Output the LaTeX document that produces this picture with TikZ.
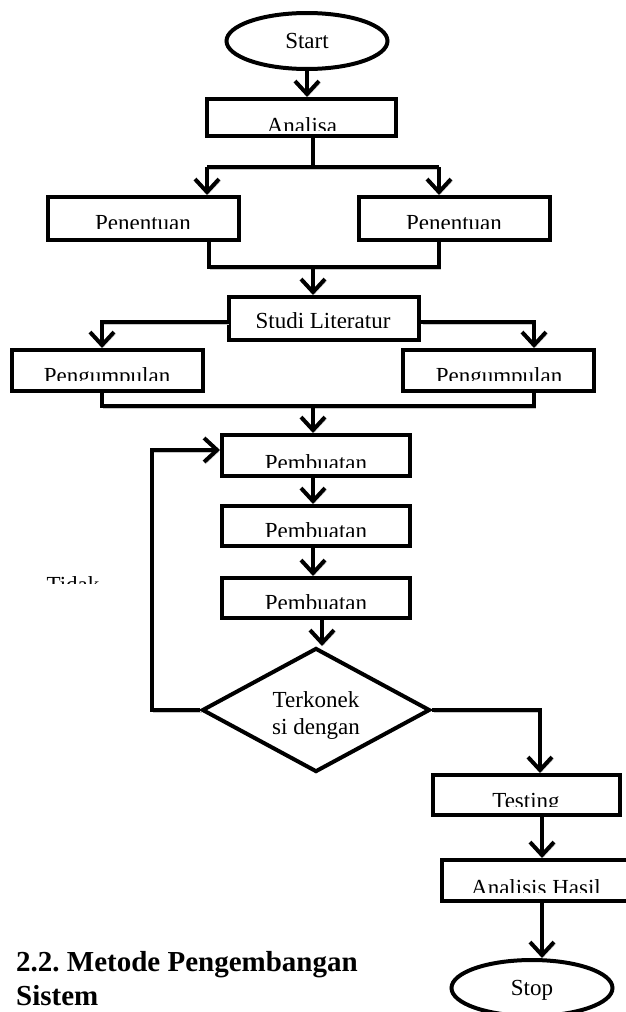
\documentclass[tikz,border=0pt]{standalone}
\usepackage{fontspec}
\setmainfont{Liberation Serif}
\usetikzlibrary{arrows.meta,shapes.geometric}
\frenchspacing
\tikzset{
  lw/.style={line width=4pt},
  shad/.style={preaction={draw=black!22, transform canvas={shift={(1.5pt,-2pt)}}}},
  conn/.style={lw, shad},
  arr/.style={conn, -{Straight Barb[length=13pt,width=24pt]}},
  box/.style={draw, lw, fill=white, rectangle, inner sep=0pt},
  term/.style={draw, lw, fill=white, ellipse, inner sep=0pt, minimum width=161pt, minimum height=56pt, text depth=0pt, font=\fontsize{23}{27}\selectfont},
  dec/.style={draw, lw, fill=white, diamond, inner sep=0pt, minimum width=228pt, minimum height=124pt},
  txt/.style={font=\fontsize{23}{27}\selectfont, inner sep=0pt},
  head/.style={font=\fontsize{29}{34}\selectfont\bfseries, inner sep=0pt, anchor=base west},
}
% #1 name, #2 x, #3 baseline y, #4 clip y, #5 text
\newcommand{\cuttext}[5]{\begin{scope}\clip (0,0) rectangle (626,#4);\node[txt, anchor=base] (#1) at (#2,#3) {#5};\end{scope}}
\begin{document}
\begin{tikzpicture}[x=1pt,y=-1pt]
\useasboundingbox (0,0) rectangle (626,1012);
\fill[white] (0,0) rectangle (626,1012);

% terminals
\node[term] (start) at (307,41) {Start};
\node[term] (stop) at (532,988) {Stop};

% boxes
\node[box, minimum width=189pt, minimum height=37pt] (ana) at (301.5,117.5) {};
\node[box, minimum width=191pt, minimum height=43pt] (penL) at (143.5,218.5) {};
\node[box, minimum width=191pt, minimum height=43pt] (penR) at (454.5,218.5) {};
\node[box, minimum width=190pt, minimum height=43pt] (studi) at (324,318.5) {};
\node[box, minimum width=191pt, minimum height=41pt] (pgL) at (107.5,370.5) {};
\node[box, minimum width=191pt, minimum height=41pt] (pgR) at (498.5,370.5) {};
\node[box, minimum width=188pt, minimum height=41pt] (p1) at (316,455.5) {};
\node[box, minimum width=188pt, minimum height=40pt] (p2) at (316,526) {};
\node[box, minimum width=188pt, minimum height=40pt] (p3) at (316,598) {};
\node[box, minimum width=187pt, minimum height=40pt] (test) at (526.5,795) {};
\node[box, minimum width=188pt, minimum height=41pt] (anh) at (536,880.5) {};

% decision
\node[dec] (dia) at (316,710) {};
\node[txt, anchor=base] (d1) at (316,707) {Terkonek};
\node[txt, anchor=base] (d2) at (316,734) {si dengan};

% box texts (cut at the bottom as in the source)
\cuttext{tana}{302}{133}{130}{Analisa}
\cuttext{tpenL}{143}{230}{228}{Penentuan}
\cuttext{tpenR}{454}{230}{228}{Penentuan}
\cuttext{tstudi}{323}{328}{327}{Studi Literatur}
\cuttext{tpgL}{107}{383}{380}{Pengumpulan}
\cuttext{tpgR}{499}{383}{380}{Pengumpulan}
\cuttext{tp1}{316}{470}{467}{Pembuatan}
\cuttext{tp2}{316}{538}{536}{Pembuatan}
\cuttext{tp3}{316}{610}{608}{Pembuatan}
\cuttext{ttest}{526}{808}{806}{Testing}
\cuttext{tanh}{536}{895}{892}{Analisis Hasil}
\cuttext{ttidak}{73}{592}{583}{Tidak}

% heading
\node[head] (h1) at (16,971) {2.2. Metode Pengembangan};
\node[head] (h2) at (16,1005) {Sistem};

% junction coordinates
\coordinate (j1) at (313,167);
\coordinate (j1L) at (207,167);
\coordinate (j1R) at (439,167);
\coordinate (j2) at (313,267);
\coordinate (j2L) at (209,267);
\coordinate (j2R) at (439,267);
\coordinate (sL) at (102,322);
\coordinate (sR) at (534,322);
\coordinate (j3) at (313,406);
\coordinate (j3L) at (102,406);
\coordinate (j3R) at (534,406);
\coordinate (lp) at (152,450);
\coordinate (rp) at (540,710);
\coordinate (rq) at (542,850);
\coordinate (dx) at (322,640);

% connectors
\draw[arr] (start) -- (start |- ana.north);
\draw[conn] (ana.south -| j1) -- (j1);
\draw[conn] (j1L) -- (j1R);
\draw[arr] (j1L) -- (j1L |- penL.north);
\draw[arr] (j1R) -- (j1R |- penR.north);
\draw[conn] (j2L |- penL.south) -- (j2L) -- (j2R) -- (j2R |- penR.south);
\draw[arr] (j2) -- (j2 |- studi.north);
\draw[arr] (sL -| studi.west) -- (sL) -- (sL |- pgL.north);
\draw[arr] (sR -| studi.east) -- (sR) -- (sR |- pgR.north);
\draw[conn] (j3L |- pgL.south) -- (j3L) -- (j3R) -- (j3R |- pgR.south);
\draw[arr] (j3) -- (j3 |- p1.north);
\draw[arr] (p1.south -| j3) -- (j3 |- p2.north);
\draw[arr] (p2.south -| j3) -- (j3 |- p3.north);
\draw[arr] (p3.south -| dx) -- (dx |- dia.north);
\draw[arr] (dia.west) -| (lp) -- (lp -| p1.west);
\draw[arr] (dia.east) -| (rp |- test.north);
\draw[arr] (test.south -| rq) -- (rq |- anh.north);
\draw[arr] (anh.south -| rq) -- (rq |- stop.north);
\end{tikzpicture}
\end{document}
